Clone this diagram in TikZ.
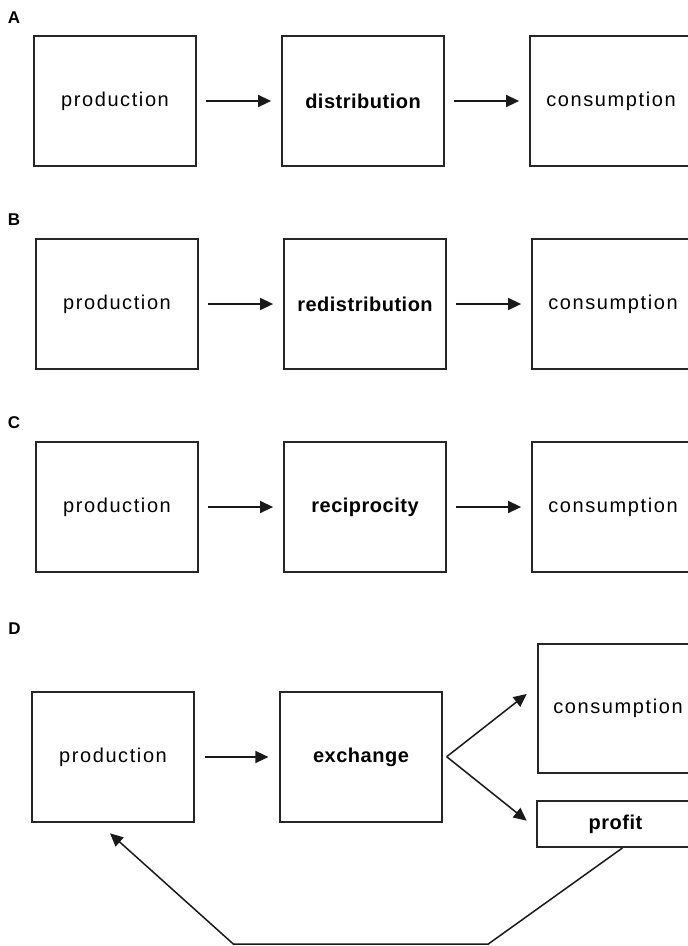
\documentclass[tikz,border=0pt]{standalone}
\usepackage{fontspec}
\setmainfont{Liberation Sans}
\newfontfamily\regf[LetterSpace=8]{Liberation Sans}
\newfontfamily\boldf[LetterSpace=2.5]{Liberation Sans}
\usetikzlibrary{arrows.meta}
\tikzset{
 box/.style={draw=black!85, line width=1.8pt, minimum width=162pt, minimum height=130pt, inner sep=0pt, font=\regf\fontsize{20}{23}\selectfont},
 bbox/.style={box, font=\boldf\bfseries\fontsize{20}{23}\selectfont},
 flow/.style={draw=black!90, line width=1.5pt, -{Triangle[length=13pt,width=12pt]}},
 gap/.style={shorten <=9.5pt, shorten >=10pt},
 panel/.style={font=\boldf\bfseries\fontsize{17}{19}\selectfont, inner sep=0pt},
}
\begin{document}
\begin{tikzpicture}[x=1pt,y=-1pt]
\useasboundingbox (0,0) rectangle (688,946);
% ---- A
\node[panel] (lA) at (14,18) {A};
\node[box]  (pA) at (115,101) {production};
\node[bbox] (dA) at (363,101) {distribution};
\node[box] (cA) at (611,101) {consumption};
\draw[flow,gap] (pA) -- (dA);
\draw[flow,gap] (dA) -- (cA);
% ---- B
\node[panel] (lB) at (14,220) {B};
\node[box]  (pB) at (117,304) {production};
\node[bbox] (dB) at (365,304) {redistribution};
\node[box] (cB) at (613,304) {consumption};
\draw[flow,gap] (pB) -- (dB);
\draw[flow,gap] (dB) -- (cB);
% ---- C
\node[panel] (lC) at (14,423) {C};
\node[box]  (pC) at (117,507) {production};
\node[bbox] (dC) at (365,507) {reciprocity};
\node[box] (cC) at (613,507) {consumption};
\draw[flow,gap] (pC) -- (dC);
\draw[flow,gap] (dC) -- (cC);
% ---- D
\node[panel] (lD) at (14.5,629) {D};
\node[box]  (pD) at (113,757) {production};
\node[bbox] (eD) at (361,757) {exchange};
\node[box, minimum width=160pt, minimum height=129pt] (cD) at (618,708.5) {consumption};
\node[bbox, minimum width=157pt, minimum height=46pt] (fD) at (615.5,824) {profit};
\draw[flow, shorten <=10pt, shorten >=10.7pt] (pD) -- (eD);
\coordinate (fork) at (446.7,756.7);
\coordinate (tipC) at (526.7,694);
\coordinate (tipF) at (526.7,820.7);
\draw[flow] (fork) -- (tipC);
\draw[flow] (fork) -- (tipF);
\coordinate (fbStart) at ([xshift=7pt]fD.south);
\coordinate (fbA) at (488.3,944);
\coordinate (fbB) at (233.3,944);
\coordinate (fbTip) at (110,833.3);
\draw[flow] (fbStart) -- (fbA) -- (fbB) -- (fbTip);
\end{tikzpicture}
\end{document}
